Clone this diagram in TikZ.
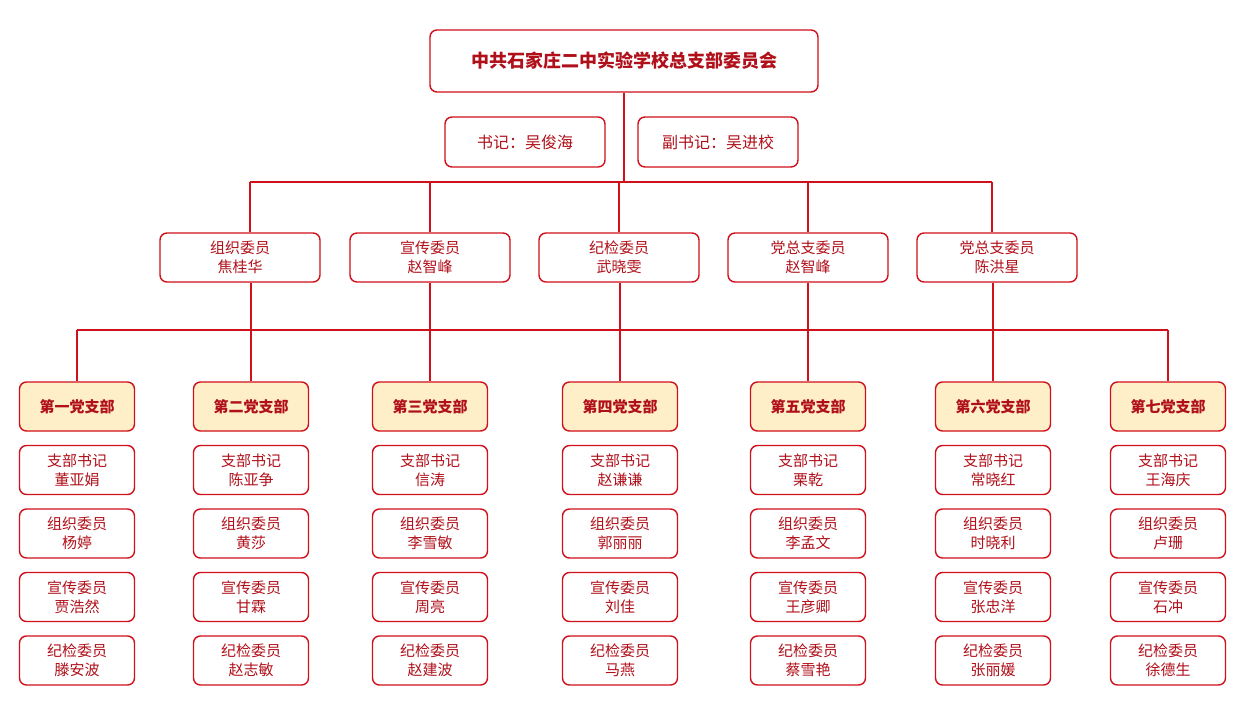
\documentclass[tikz,border=0pt]{standalone}
\usepackage{fontspec}
\newfontfamily\cjk{Noto Sans CJK SC}
\definecolor{lr}{HTML}{D0101A}
\definecolor{tr}{HTML}{B0101A}
\definecolor{by}{HTML}{FFEFC8}
\begin{document}
\begin{tikzpicture}[x=1pt,y=-1pt,
 box/.style={draw=lr,line width=1.4pt,rounded corners=7pt,fill=white,text=tr,font=\cjk\fontsize{15}{19}\selectfont,align=center,inner sep=0pt},
 ln/.style={draw=lr,line width=1.4pt}]
\useasboundingbox (0,0) rectangle (1250,704);
\node[box,minimum width=388,minimum height=62,font=\cjk\bfseries\fontsize{18}{20}\selectfont] (top) at (624,61) {中共石家庄二中实验学校总支部委员会};
\node[box,minimum width=160,minimum height=50,font=\cjk\fontsize{16}{19}\selectfont] (sj) at (525,142) {书记：吴俊海};
\node[box,minimum width=160,minimum height=50,font=\cjk\fontsize{16}{19}\selectfont] (fsj) at (718,142) {副书记：吴进校};
\coordinate (hub) at (621,182);
\draw[ln] (top.south) -- (top.south|-hub);
\draw[ln] (250,182) coordinate (hl) -- (992,182) coordinate (hr);
\foreach \n/\x/\a/\b in {c1/240/组织委员/焦桂华,c2/430/宣传委员/赵智峰,c3/619/纪检委员/武晓雯,c4/808/党总支委员/赵智峰,c5/997/党总支委员/陈洪星}{
 \node[box,minimum width=160,minimum height=49] (\n) at (\x,257.5) {\a\\\b};
}
\foreach \n/\x/\nm in {b1/77/第一党支部,b2/251/第二党支部,b3/430/第三党支部,b4/620/第四党支部,b5/808/第五党支部,b6/993/第六党支部,b7/1168/第七党支部}{
 \node[box,fill=by,minimum width=115,minimum height=49,font=\cjk\bfseries\fontsize{15}{18}\selectfont] (\n) at (\x,406.5) {\nm};
}
\coordinate (bl) at (77,330); \coordinate (br) at (1168,330);
\draw[ln] (bl) -- (br);
\draw[ln] (bl) -- (b1.north); \draw[ln] (br) -- (b7.north);
\draw[ln] (c1.south-|b2) -- (b2.north);
\draw[ln] (c2.south-|b3) -- (b3.north);
\draw[ln] (c3.south-|b4) -- (b4.north);
\draw[ln] (c4.south-|b5) -- (b5.north);
\draw[ln] (c5.south-|b6) -- (b6.north);
\draw[ln] (hl) -- (hl|-c1.north);
\draw[ln] (c2|-hl) -- (c2.north);
\draw[ln] (c3|-hl) -- (c3.north);
\draw[ln] (c4|-hl) -- (c4.north);
\draw[ln] (hr) -- (hr|-c5.north);
\foreach \b/\l in {
 b1/{董亚娟,杨婷,贾浩然,滕安波},
 b2/{陈亚争,黄莎,甘霖,赵志敏},
 b3/{信涛,李雪敏,周亮,赵建波},
 b4/{赵谦谦,郭丽丽,刘佳,马燕},
 b5/{栗乾,李孟文,王彦卿,蔡雪艳},
 b6/{常晓红,时晓利,张忠洋,张丽媛},
 b7/{王海庆,卢珊,石冲,徐德生}}{
 \foreach \nm [count=\i] in \l {
  \pgfmathsetmacro\yy{470+(\i-1)*63.5}
  \ifcase\i\or\def\role{支部书记}\or\def\role{组织委员}\or\def\role{宣传委员}\or\def\role{纪检委员}\fi
  \node[box,minimum width=115,minimum height=49] (\b m\i) at (\b|-0,\yy) {\role\\\nm};
 }
}
\end{tikzpicture}
\end{document}
